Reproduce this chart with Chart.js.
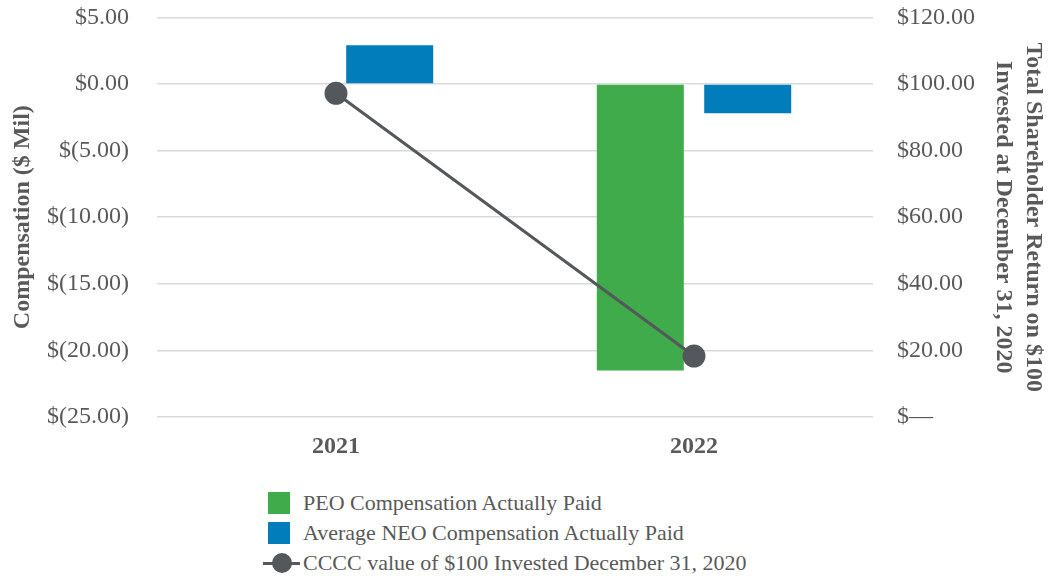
<!DOCTYPE html>
<html>

<head>
    <script src="https://cdn.jsdelivr.net/npm/chart.js"></script>
    <style>
        html,
        body {
            margin: 0px;
            width: 1050px;
            height: 581px;
            background: #ffffff;
            font-family: "Liberation Serif", serif;
            overflow: hidden;
        }

        .container {
            position: absolute;
            left: 0px;
            top: -25px;
            width: 1050px;
            height: 495px;
        }

        .legend {
            position: absolute;
            left: 263px;
            top: 488px;
            color: #595959;
            font-size: 22px;
        }

        .legend .row {
            height: 30px;
            line-height: 30px;
            display: flex;
            align-items: center;
        }

        .legend .box {
            width: 22px;
            height: 22px;
            margin-left: 5px;
            margin-right: 13px;
        }

        .legend .mark {
            position: relative;
            width: 37px;
            height: 22px;
            margin-right: 3px;
        }

        .legend .mark .ln {
            position: absolute;
            left: 0px;
            top: 10px;
            width: 37px;
            height: 3px;
        }

        .legend .mark .dot {
            position: absolute;
            left: 9px;
            top: 1px;
            width: 20px;
            height: 20px;
            border-radius: 50%;
        }
    </style>
</head>

<body>
    <div class="container">
        <canvas id="myChart"></canvas>
    </div>
    <div class="legend" id="legend"></div>

    <script>

        const years = ['2021', '2022'];
        const peoPaid = [null, -21.5];      // $ Mil
        const neoPaid = [2.9, -2.2];        // $ Mil
        const tsrValue = [97.2, 18.3];      // value of $100

        const seriesNames = [
            'PEO Compensation Actually Paid',
            'Average NEO Compensation Actually Paid',
            'CCCC value of $100 Invested December 31, 2020'
        ];

        const green = '#3fab4a';
        const blue = '#007dba';
        const lineColor = '#54575b';
        const fontColor = '#595959';
        const gridColor = '#d9d9d9';

        Chart.defaults.font.family = '"Liberation Serif", serif';

        function money(v) {
            if (v < 0) return '$(' + Math.abs(v).toFixed(2) + ')';
            return '$' + v.toFixed(2);
        }

        var context = document.getElementById('myChart').getContext('2d');
        var chart = new Chart(context, {
            type: 'bar',
            data: {
                labels: years,
                datasets: [
                    {
                        type: 'line',
                        label: seriesNames[2],
                        data: tsrValue,
                        yAxisID: 'y1',
                        borderColor: lineColor,
                        backgroundColor: lineColor,
                        borderWidth: 3,
                        pointRadius: 10,
                        pointHoverRadius: 10,
                        order: 0
                    },
                    {
                        label: seriesNames[0],
                        data: peoPaid,
                        backgroundColor: green,
                        yAxisID: 'y',
                        order: 1
                    },
                    {
                        label: seriesNames[1],
                        data: neoPaid,
                        backgroundColor: blue,
                        yAxisID: 'y',
                        order: 1
                    }
                ]
            },
            options: {
                responsive: true,
                maintainAspectRatio: false,
                animation: false,
                categoryPercentage: 0.6,
                barPercentage: 0.81,
                layout: {
                    padding: { top: -6, left: 0, right: 0, bottom: 0 }
                },
                plugins: {
                    legend: { display: false },
                    tooltip: { enabled: false }
                },
                scales: {
                    x: {
                        grid: { display: false },
                        border: { display: false },
                        ticks: {
                            color: fontColor,
                            font: { size: 24, weight: 'bold' },
                            padding: 7
                        },
                        afterFit: function (s) { s.height = 53; }
                    },
                    y: {
                        position: 'left',
                        min: -25,
                        max: 5,
                        ticks: {
                            stepSize: 5,
                            color: fontColor,
                            font: { size: 24 },
                            padding: 28,
                            callback: function (v) { return money(v); }
                        },
                        grid: { color: gridColor, lineWidth: 1.5, drawTicks: false },
                        border: { display: false },
                        title: {
                            display: true,
                            text: 'Compensation ($ Mil)',
                            color: fontColor,
                            font: { size: 24, weight: 'bold', lineHeight: 1.2 },
                            padding: { top: 8, bottom: 0 }
                        },
                        afterFit: function (s) { s.width = 157; }
                    },
                    y1: {
                        position: 'right',
                        min: 0,
                        max: 120,
                        ticks: {
                            stepSize: 20,
                            color: fontColor,
                            font: { size: 24 },
                            padding: 24,
                            callback: function (v) { return v === 0 ? '$\u2014' : money(v); }
                        },
                        grid: { display: false, drawTicks: false },
                        border: { display: false },
                        title: {
                            display: true,
                            text: ['Total Shareholder Return on $100', 'Invested at December 31, 2020'],
                            color: fontColor,
                            font: { size: 24, weight: 'bold', lineHeight: 1.25 },
                            padding: { top: 2, bottom: 0 }
                        },
                        afterFit: function (s) { s.width = 177; }
                    }
                }
            }
        });

        // legend, one entry per row
        var legend = document.getElementById('legend');
        legend.innerHTML =
            '<div class="row"><div class="box" style="background:' + green + '"></div>' + seriesNames[0] + '</div>' +
            '<div class="row"><div class="box" style="background:' + blue + '"></div>' + seriesNames[1] + '</div>' +
            '<div class="row"><div class="mark"><div class="ln" style="background:' + lineColor + '"></div>' +
            '<div class="dot" style="background:' + lineColor + '"></div></div>' + seriesNames[2] + '</div>';

    </script>
</body>

</html>
